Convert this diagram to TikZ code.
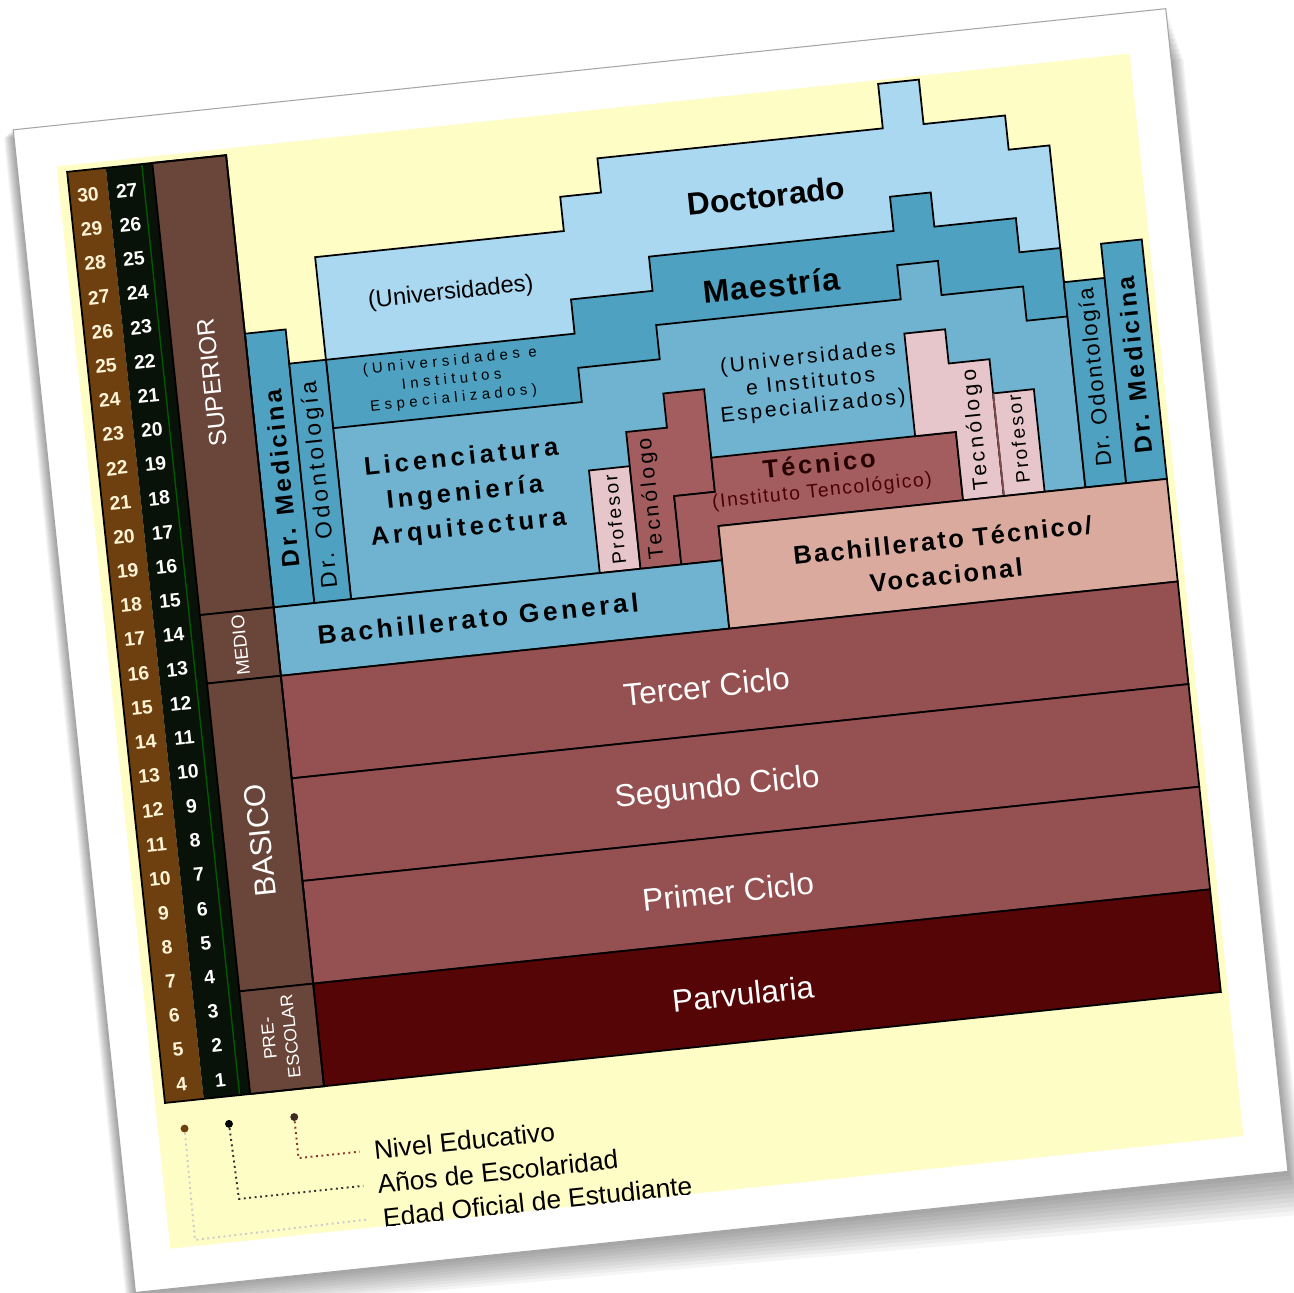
\documentclass[tikz,border=0pt]{standalone}
\usepackage{fontspec}
\setmainfont{Liberation Sans}

\definecolor{paper}{HTML}{FFFDC6}
\definecolor{agecol}{HTML}{6E400F}
\definecolor{agetext}{HTML}{FFF3D6}
\definecolor{yearcol}{HTML}{081208}
\definecolor{levelcol}{HTML}{6A4539}
\definecolor{doctblue}{HTML}{A9D8F0}
\definecolor{maesblue}{HTML}{4EA1C1}
\definecolor{licblue}{HTML}{70B3D1}
\definecolor{tecred}{HTML}{A45D5E}
\definecolor{cicred}{HTML}{955051}
\definecolor{profpink}{HTML}{E6C6CA}
\definecolor{bachsalmon}{HTML}{D9AA9D}
\definecolor{parvred}{HTML}{550505}

\newcommand\fsz[2]{\fontsize{#1}{#2}\selectfont}

\begin{document}
\begin{tikzpicture}[x=0.02cm,y=-0.02cm,
  box/.style={draw=black,line width=1pt},
  txt/.style={transform shape,inner sep=1pt,align=center},
  vtxt/.style={txt,rotate=90},
  num/.style={transform shape,inner sep=0pt,font=\fsz{11}{11}\bfseries},
  ciclo/.style={txt,text=white,font=\fsz{18}{20}},
  lvl/.style={vtxt,text=white},
  legtxt/.style={transform shape,anchor=west,inner sep=1pt,font=\fsz{15}{17}},
  legdot/.style={circle,inner sep=0pt,minimum size=4.5pt},
  legline/.style={dotted,line width=1.1pt,shorten >=7pt}]
\useasboundingbox (0,0) rectangle (1294,1293);
\fill[white] (0,0) rectangle (1294,1293);
\begin{scope}[shift={(226.9,162.7)},rotate=6,x=0.82cm,y=-0.688cm]
\foreach \s in {1,...,10}
  \fill[black,opacity=0.04] (-5.1-0.025*\s,-1.6+0.02*\s) -- (-5.1-0.025*\s,32.39+0.07*\s)
    -- (23.17+0.035*\s,32.39+0.13*\s) -- (23.17+0.03*\s,-1.6+0.15*\s) -- cycle;
\filldraw[fill=white,draw=gray!70,line width=0.6pt] (-5.1,-1.6) rectangle (23.17,32.39);
\fill[paper] (-4.14,-0.41) rectangle (22.18,31.23);
\begin{scope}
\clip (-4.14,-0.41) rectangle (22.18,31.23);
% upper blue layers
\filldraw[box,fill=doctblue] (1.9,13) -- (1.9,3) -- (8,3) -- (8,2) -- (9,2) -- (9,1) -- (16,1) -- (16,-0.3)
  -- (17,-0.3) -- (17,1) -- (19,1) -- (19,2) -- (20,2) -- (20,12) -- (11,12) -- (11,13) -- cycle;
\filldraw[box,fill=maesblue] (1.9,13) -- (1.9,6) -- (8,6) -- (8,5) -- (10,5) -- (10,4) -- (16,4) -- (16,3)
  -- (17,3) -- (17,4) -- (19,4) -- (19,5) -- (20,5) -- (20,12) -- (11,12) -- (11,13) -- cycle;
\filldraw[box,fill=licblue] (1.9,13) -- (1.9,8) -- (8,8) -- (8,7) -- (10,7) -- (10,6) -- (16,6) -- (16,5)
  -- (17,5) -- (17,6) -- (19,6) -- (19,7) -- (20,7) -- (20,12) -- (11,12) -- (11,13) -- cycle;
\filldraw[box,fill=maesblue] (0,5) rectangle (1,13);
\filldraw[box,fill=maesblue] (1,6) rectangle (1.9,13);
\filldraw[box,fill=maesblue] (20,6) rectangle (21,12);
\filldraw[box,fill=maesblue] (21,5) rectangle (22,12);
\filldraw[box,fill=profpink] (8,10) rectangle (9,13);
\filldraw[box,fill=tecred] (9,13) -- (9,9) -- (10,9) -- (10,8) -- (11,8) -- (11,11) -- (10,11) -- (10,13) -- cycle;
\filldraw[box,fill=tecred] (10,13) -- (10,11) -- (11,11) -- (11,10) -- (17,10) -- (17,12) -- (11,12) -- (11,13) -- cycle;
\filldraw[box,fill=profpink] (16,10) -- (16,7) -- (17,7) -- (17,8) -- (18,8) -- (18,12) -- (17,12) -- (17,10) -- cycle;
\filldraw[box,fill=profpink] (18,9) rectangle (19,12);
\draw[tecred!80!black,line width=1pt] (18,9) -- (18,12);
% lower rows
\filldraw[box,fill=licblue] (0,13) rectangle (11,15);
\filldraw[box,fill=bachsalmon] (11,12) rectangle (22,15);
\foreach \y/\t in {15/Tercer Ciclo,18/Segundo Ciclo,21/Primer Ciclo} {
  \filldraw[box,fill=cicred] (0,\y) rectangle (22,\y+3);
  \node[ciclo] (ciclo\y) at (10.3,\y+1.6) {\t};
}
\filldraw[box,fill=parvred] (0,24) rectangle (22,27);
\node[ciclo] (parv) at (10.4,25.6) {Parvularia};
% left columns
\fill[agecol] (-3.9,-0.22) rectangle (-2.95,27);
\fill[yearcol] (-2.95,-0.22) rectangle (-1.81,27);
\draw[green!35!black,line width=0.8pt] (-2.07,-0.22) -- (-2.07,27);
\foreach \a/\b in {-0.22/13,13/15,15/24,24/27}
  \filldraw[box,fill=levelcol] (-1.81,\a) rectangle (0,\b);
\draw[box] (-3.9,-0.22) rectangle (0,27);
\foreach \i in {0,...,26} {
  \pgfmathtruncatemacro\age{30-\i}
  \pgfmathtruncatemacro\yr{27-\i}
  \node[num,text=agetext] (age\i) at (-3.45,\i+0.5) {\age};
  \node[num,text=white] (yr\i) at (-2.5,\i+0.5) {\yr};
}
\node[lvl,font=\fsz{14}{15}] (superior) at (-0.93,6.3) {SUPERIOR};
\node[lvl,font=\fsz{10.5}{11}] (medio) at (-0.9,14) {MEDIO};
\node[lvl,font=\fsz{17}{18}] (basico) at (-0.92,19.7) {BASICO};
\node[lvl,font=\fsz{10}{12.5}] (preesc) at (-0.95,25.45) {PRE-\\ESCOLAR};
% labels
\node[txt,font=\fsz{18}{20}\bfseries] (doct) at (13,2.6) {Doctorado};
\node[txt,font={\fsz{18}{20}\bfseries\addfontfeatures{LetterSpace=4}}] (maes) at (12.9,5.2) {Maestría};
\node[txt,font=\fsz{13.5}{15}] (univ) at (5.1,4.45) {(Universidades)};
\node[txt,inner sep=0pt,font={\fsz{8.5}{10.6}\addfontfeatures{LetterSpace=30}}] (univinsta) at (4.9,6.97) {(Universidades e\\Institutos\\Especializados)};
\node[txt,font={\fsz{14.5}{20}\bfseries\addfontfeatures{LetterSpace=16}}] (lic) at (4.93,10.3) {Licenciatura\\Ingeniería\\Arquitectura};
\node[txt,font={\fsz{12}{14}\addfontfeatures{LetterSpace=13}}] (univinstb) at (13.6,8.14) {(Universidades\\e Institutos\\Especializados)};
\node[vtxt,font={\fsz{11}{12}\addfontfeatures{LetterSpace=12}}] (profa) at (8.5,11.5) {Profesor};
\node[vtxt,font={\fsz{12}{13}\addfontfeatures{LetterSpace=15}}] (tecnoa) at (9.45,11) {Tecnólogo};
\node[txt,text=black!85!red,font={\fsz{14.5}{16}\bfseries\addfontfeatures{LetterSpace=11}}] (tecnico) at (13.6,10.5) {Técnico};
\node[txt,inner sep=0pt,text=black!70!red,font={\fsz{11}{12}\addfontfeatures{LetterSpace=8}}] (instec) at (13.6,11.32) {(Instituto Tencológico)};
\node[vtxt,font={\fsz{12}{13}\addfontfeatures{LetterSpace=15}}] (tecnob) at (17.5,10) {Tecnólogo};
\node[vtxt,font={\fsz{11}{12}\addfontfeatures{LetterSpace=12}}] (profb) at (18.5,10.4) {Profesor};
\node[vtxt,font={\fsz{12.5}{14}\addfontfeatures{LetterSpace=8}}] (odonb) at (20.55,8.85) {Dr. Odontología};
\node[vtxt,font={\fsz{14}{15}\bfseries\addfontfeatures{LetterSpace=12}}] (medb) at (21.5,8.6) {Dr. Medicina};
\node[vtxt,font={\fsz{14}{15}\bfseries\addfontfeatures{LetterSpace=12}}] (meda) at (0.52,9.3) {Dr. Medicina};
\node[vtxt,font={\fsz{13}{14}\addfontfeatures{LetterSpace=15}}] (odona) at (1.45,9.6) {Dr. Odontología};
\node[txt,font={\fsz{15}{17}\bfseries\addfontfeatures{LetterSpace=14}}] (bachgen) at (4.93,13.95) {Bachillerato General};
\node[txt,font={\fsz{14.5}{20}\bfseries\addfontfeatures{LetterSpace=9}}] (bachtec) at (16.4,13.6) {Bachillerato Técnico/\\Vocacional};
% legend
\node[legdot,fill=agecol] (dotEdad) at (-3.49,27.8) {};
\node[legdot,fill=black] (dotAnos) at (-2.4,27.8) {};
\node[legdot,fill=levelcol!60!black] (dotNivel) at (-0.8,27.8) {};
\node[legtxt] (lblNivel) at (1.0,29) {Nivel Educativo};
\node[legtxt] (lblAnos) at (1.0,30) {Años de Escolaridad};
\node[legtxt] (lblEdad) at (1.05,30.98) {Edad Oficial de Estudiante};
\coordinate (cNivel) at (-0.8,29);
\coordinate (cAnos) at (-2.35,30);
\coordinate (cEdad) at (-3.52,31.05);
\draw[legline,draw=levelcol!80!red] (dotNivel) -- (cNivel) -- (lblNivel.west);
\draw[legline,draw=black!80] (dotAnos) -- (cAnos) -- (lblAnos.west);
\draw[legline,draw=gray!40] (dotEdad) -- (cEdad) -- (lblEdad.west);
\end{scope}
\end{scope}
\end{tikzpicture}
\end{document}
